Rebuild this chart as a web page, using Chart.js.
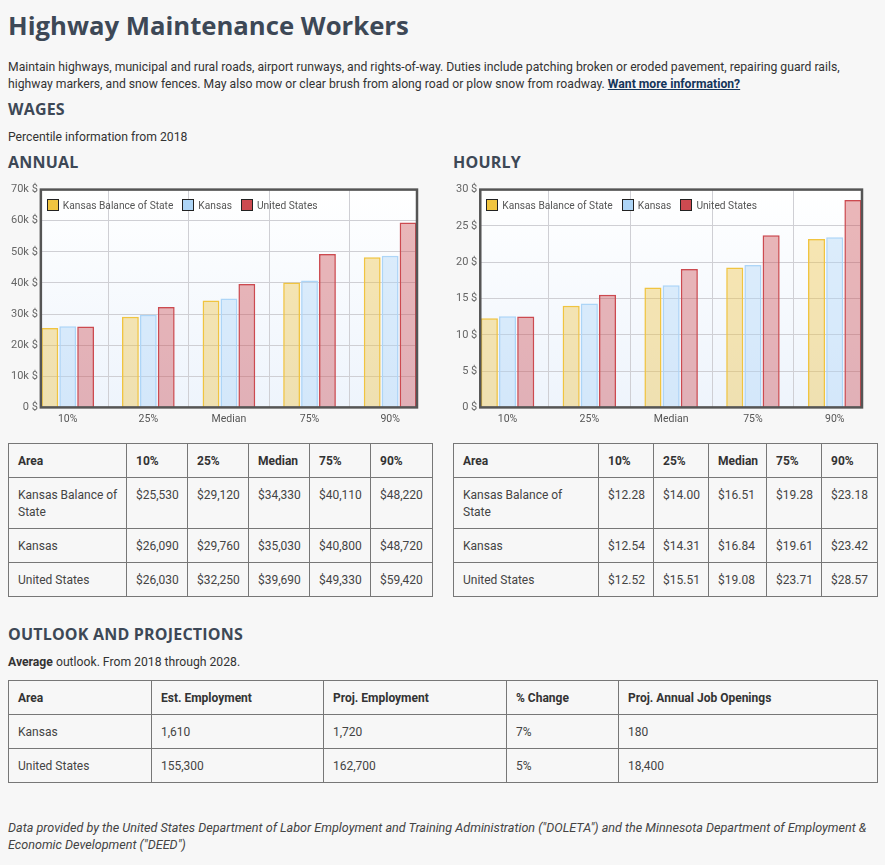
<!DOCTYPE html>
<html>
<head>
<meta charset="utf-8">
<title>Highway Maintenance Workers</title>
<script src="https://cdn.jsdelivr.net/npm/chart.js@4.4.1/dist/chart.umd.min.js"></script>
<style>
    html, body { margin: 0; padding: 0; }
    body {
        background: #f7f7f7;
        font-family: Roboto, "Noto Sans", sans-serif;
        font-size: 12.2px;
        color: #333;
        width: 885px;
        height: 865px;
        position: relative;
        overflow: hidden;
    }
    .abs { position: absolute; }
    h1, h2, h3 {
        margin: 0;
        font-family: "Open Sans", sans-serif;
        color: #3d4856;
        font-weight: 700;
    }
    h1 { font-size: 25.7px; line-height: 30px; }
    h2, h3 { font-size: 16px; line-height: 18px; letter-spacing: 0.2px; }
    p { margin: 0; line-height: 17px; }
    a { color: #15355a; font-weight: 700; text-decoration: underline; }
    .chart-box { position: absolute; width: 411px; height: 252px; }
    .legend {
        position: absolute;
        display: flex;
        font-size: 10.2px;
        line-height: 13px;
        color: #555;
        white-space: nowrap;
    }
    .legend span.item { display: flex; align-items: center; margin-right: 9px; }
    .legend span.box {
        display: inline-block;
        width: 10px; height: 10px;
        border: 1.5px solid #222;
        margin-right: 4px;
    }
    table {
        position: absolute;
        border-collapse: collapse;
        table-layout: fixed;
        color: #444;
    }
    td, th {
        border: 1px solid #777;
        padding: 9px 5px 7px 9px;
        line-height: 17px;
        text-align: left;
        vertical-align: top;
        font-size: 12px;
    }
    th { font-weight: 700; color: #333; }
    .footer { font-style: italic; color: #444; font-size: 12.6px; }
</style>
</head>
<body>

<h1 class="abs" style="left:8px; top:11px;">Highway Maintenance Workers</h1>
<p class="abs" style="left:8px; top:59px; width:845px;">Maintain highways, municipal and rural roads, airport runways, and rights-of-way. Duties include patching broken or eroded pavement, repairing guard rails, highway markers, and snow fences. May also mow or clear brush from along road or plow snow from roadway. <a href="#">Want more information?</a></p>
<h2 class="abs" style="left:8px; top:100px;">WAGES</h2>
<p class="abs" style="left:8px; top:129px;">Percentile information from 2018</p>
<h3 class="abs" style="left:8px; top:153px;">ANNUAL</h3>
<h3 class="abs" style="left:453px; top:153px;">HOURLY</h3>

<div class="chart-box" style="left:8px; top:180px;">
    <canvas id="annualChart"></canvas>
    <div class="legend" id="annualLegend"></div>
</div>
<div class="chart-box" style="left:453px; top:180px;">
    <canvas id="hourlyChart"></canvas>
    <div class="legend" id="hourlyLegend"></div>
</div>

<table id="annualTable" style="left:8px; top:443px; width:424px;"></table>
<table id="hourlyTable" style="left:453px; top:443px; width:424px;"></table>

<h2 class="abs" style="left:8px; top:625px;">OUTLOOK AND PROJECTIONS</h2>
<p class="abs" style="left:8px; top:654px;"><b>Average</b> outlook. From 2018 through 2028.</p>
<table id="outlookTable" style="left:8px; top:680px; width:869px;"></table>

<p class="abs footer" style="left:8px; top:819px; width:872px;">Data provided by the United States Department of Labor Employment and Training Administration ("DOLETA") and the Minnesota Department of Employment &amp; Economic Development ("DEED")</p>

<script>
// 分位ラベルと地域
const percentiles = ['10%', '25%', 'Median', '75%', '90%'];
const areas = ['Kansas Balance of State', 'Kansas', 'United States'];

// 年収
const annualBalance = [25530, 29120, 34330, 40110, 48220];
const annualKansas = [26090, 29760, 35030, 40800, 48720];
const annualUS = [26030, 32250, 39690, 49330, 59420];

// 時給
const hourlyBalance = [12.28, 14.00, 16.51, 19.28, 23.18];
const hourlyKansas = [12.54, 14.31, 16.84, 19.61, 23.42];
const hourlyUS = [12.52, 15.51, 19.08, 23.71, 28.57];

// 見通し
const outlookHeaders = ['Area', 'Est. Employment', 'Proj. Employment', '% Change', 'Proj. Annual Job Openings'];
const outlookAreas = ['Kansas', 'United States'];
const estEmployment = [1610, 155300];
const projEmployment = [1720, 162700];
const pctChange = [7, 5];
const jobOpenings = [180, 18400];

const seriesColors = [
    { border: 'rgb(240,196,64)', fill: 'rgba(240,196,64,0.4)' },
    { border: 'rgb(173,213,247)', fill: 'rgba(173,213,247,0.4)' },
    { border: 'rgb(204,74,80)', fill: 'rgba(204,74,80,0.4)' }
];

// 背景グラデーションと枠線
const areaStyle = {
    id: 'areaStyle',
    beforeDraw(chart) {
        const a = chart.chartArea;
        const c = chart.ctx;
        const g = c.createLinearGradient(0, a.top, 0, a.bottom);
        g.addColorStop(0, '#ffffff');
        g.addColorStop(1, '#eef4fc');
        c.save();
        c.fillStyle = g;
        c.fillRect(a.left, a.top, a.right - a.left, a.bottom - a.top);
        c.restore();
    },
    afterDatasetsDraw(chart) {
        const a = chart.chartArea;
        const c = chart.ctx;
        c.save();
        c.strokeStyle = '#555';
        c.lineWidth = 2.5;
        c.strokeRect(a.left, a.top, a.right - a.left, a.bottom - a.top);
        c.restore();
    }
};

// HTMLの凡例をチャート内に置く
const htmlLegend = {
    id: 'htmlLegend',
    afterUpdate(chart, args, opts) {
        const el = document.getElementById(opts.containerID);
        el.innerHTML = chart.data.datasets.map((ds, i) => `
            <span class="item"><span class="box" style="background:${seriesColors[i].border}"></span>${ds.label}</span>
        `).join('');
        el.style.left = (chart.chartArea.left + 6) + 'px';
        el.style.top = (chart.chartArea.top + 9) + 'px';
    }
};

function makeChart(id, legendId, values, max, step, fmt) {
    return new Chart(document.getElementById(id), {
        type: 'bar',
        data: {
            labels: percentiles,
            datasets: values.map((v, i) => ({
                label: areas[i],
                data: v,
                backgroundColor: seriesColors[i].fill,
                borderColor: seriesColors[i].border,
                borderWidth: 1.5,
                categoryPercentage: 0.667,
                barPercentage: 0.94
            }))
        },
        options: {
            animation: false,
            responsive: true,
            maintainAspectRatio: false,
            layout: { padding: { right: 2, top: 2 } },
            plugins: {
                legend: { display: false },
                tooltip: { enabled: false },
                htmlLegend: { containerID: legendId }
            },
            scales: {
                x: {
                    offset: false,
                    afterBuildTicks(scale) {
                        // 両端に1/3カテゴリ分の余白
                        scale._startValue = -1 / 3;
                        scale._valueRange = 4 + 2 / 3;
                    },
                    grid: { color: '#cfcfd4', drawTicks: false },
                    border: { display: false },
                    ticks: { color: '#555', font: { family: 'Roboto', size: 10.5 }, padding: 6 }
                },
                y: {
                    min: 0,
                    max: max,
                    ticks: {
                        stepSize: step,
                        color: '#666',
                        font: { family: 'Roboto', size: 11 },
                        padding: 3,
                        callback: fmt
                    },
                    grid: { color: '#cfcfd4', drawTicks: false },
                    border: { display: false }
                }
            }
        },
        plugins: [areaStyle, htmlLegend]
    });
}

makeChart('annualChart', 'annualLegend', [annualBalance, annualKansas, annualUS], 70000, 10000,
    v => v === 0 ? '0 $' : (v / 1000) + 'k $');
makeChart('hourlyChart', 'hourlyLegend', [hourlyBalance, hourlyKansas, hourlyUS], 30, 5,
    v => v + ' $');

// 表
function fillWageTable(id, widths, values, fmt) {
    const t = document.getElementById(id);
    let html = '<colgroup>' + widths.map(w => `<col style="width:${w}px">`).join('') + '</colgroup>';
    html += '<tr><th>Area</th>' + percentiles.map(p => `<th>${p}</th>`).join('') + '</tr>';
    areas.forEach((a, i) => {
        html += `<tr><td>${a}</td>` + values[i].map(v => `<td>${fmt(v)}</td>`).join('') + '</tr>';
    });
    t.innerHTML = html;
}

fillWageTable('annualTable', [118, 61, 61, 61, 61, 62], [annualBalance, annualKansas, annualUS],
    v => '$' + v.toLocaleString('en-US'));
fillWageTable('hourlyTable', [145, 55, 55, 58, 55, 56], [hourlyBalance, hourlyKansas, hourlyUS],
    v => '$' + v.toFixed(2));

(function () {
    const t = document.getElementById('outlookTable');
    const widths = [143, 172, 183, 112, 259];
    let html = '<colgroup>' + widths.map(w => `<col style="width:${w}px">`).join('') + '</colgroup>';
    html += '<tr>' + outlookHeaders.map(h => `<th>${h}</th>`).join('') + '</tr>';
    outlookAreas.forEach((a, i) => {
        html += `<tr><td>${a}</td><td>${estEmployment[i].toLocaleString('en-US')}</td>` +
            `<td>${projEmployment[i].toLocaleString('en-US')}</td><td>${pctChange[i]}%</td>` +
            `<td>${jobOpenings[i].toLocaleString('en-US')}</td></tr>`;
    });
    t.innerHTML = html;
})();
</script>
</body>
</html>
